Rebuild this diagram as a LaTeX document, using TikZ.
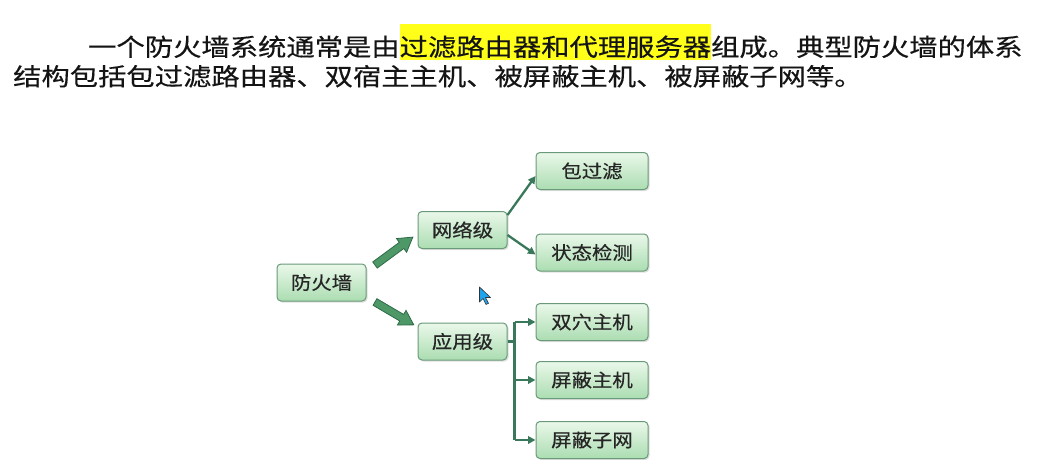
\documentclass[tikz,border=0pt]{standalone}
\usepackage{fontspec}
\newfontfamily\cjktitle{Noto Sans CJK SC}[FakeStretch=1.17,FakeBold=0.4]
\newfontfamily\cjkbox{Noto Sans CJK SC}[FakeStretch=1.12,FakeBold=0.5]
\usetikzlibrary{shadings,shadows,arrows.meta}
\definecolor{boxtop}{HTML}{EAF8EA}
\definecolor{boxbot}{HTML}{ABDDB1}
\definecolor{boxline}{HTML}{6A9A7A}
\definecolor{conncol}{HTML}{3A785C}
\definecolor{arrfill}{HTML}{4E9868}
\definecolor{arrline}{HTML}{2E6A48}
\definecolor{hl}{HTML}{FFFF1A}
\definecolor{cursorblue}{HTML}{1EA4EC}
\begin{document}
\begin{tikzpicture}[x=1pt,y=-1pt,
  box/.style={draw=boxline, line width=1pt, rounded corners=4pt,
    top color=boxtop, bottom color=boxbot,
    minimum width=89pt, minimum height=37pt, inner sep=0pt,
    font=\cjkbox\fontsize{18.2}{22}\selectfont, text=black!85,
    drop shadow={shadow xshift=1.5pt, shadow yshift=-1.5pt, opacity=0.25}},
  leaf/.style={box, minimum width=112pt},
  link/.style={draw=conncol, line width=2.3pt, -{Triangle[length=7.5pt,width=7.5pt]}},
  trunk/.style={draw=conncol, line width=2.3pt},
  bigarrow/.style={fill=arrfill, draw=arrline, line width=0.8pt, line join=miter},
  title/.style={anchor=base west, inner sep=0pt, font=\cjktitle\fontsize{24.2}{30}\selectfont, text=black!92}
]
\useasboundingbox (0,0) rectangle (1053,460);
\fill[white] (0,0) rectangle (1053,460);

% title text
\node[title] (t1) at (88,56) {一个防火墙系统通常是由{\setlength{\fboxsep}{0pt}\colorbox{hl}{\rule[-4pt]{0pt}{36pt}过滤路由器和代理服务器}}组成。典型防火墙的体系};
\node[title] (t2) at (13,85.5) {结构包括包过滤路由器、双宿主主机、被屏蔽主机、被屏蔽子网等。};

% nodes
\node[box] (fw)  at (321.5,282.5) {防火墙};
\node[box] (net) at (462.5,230) {网络级};
\node[box] (app) at (462.5,341.5) {应用级};
\node[leaf] (pf)  at (592,171) {包过滤};
\node[leaf] (sd)  at (592,252.5) {状态检测};
\node[leaf] (dh)  at (592,322) {双穴主机};
\node[leaf] (sh)  at (592,380) {屏蔽主机};
\node[leaf] (sn)  at (592,440) {屏蔽子网};

% block arrows from fw
\coordinate (a1s) at (375,265);
\coordinate (a2s) at (375,302);
\begin{scope}[shift={(a1s)}, rotate=36.4]
  \draw[bigarrow] (0,-3.8) -- (33,-3.8) -- (33,-8.5) -- (47,0) -- (33,8.5) -- (33,3.8) -- (0,3.8) -- cycle;
\end{scope}
\begin{scope}[shift={(a2s)}, rotate=-30.5]
  \draw[bigarrow] (0,-3.8) -- (31,-3.8) -- (31,-8.5) -- (45,0) -- (31,8.5) -- (31,3.8) -- (0,3.8) -- cycle;
\end{scope}

% network level links
\draw[link] ([yshift=15pt]net.east) -- ([yshift=-5pt]pf.west);
\draw[link] ([yshift=-5pt]net.east) -- ([yshift=-2pt]sd.west);

% application level tree
\draw[trunk] (app.east) -- ++(7,0) coordinate (tr);
\draw[trunk] (tr |- dh.west) -- (tr |- sn.west);
\draw[link] (tr |- dh.west) -- (dh.west);
\draw[link] (tr |- sh.west) -- (sh.west);
\draw[link] (tr |- sn.west) -- (sn.west);

% mouse cursor
\begin{scope}[shift={(479.5,287)}]
  \draw[fill=cursorblue, draw=black!80, line width=0.6pt, line join=round]
    (0,0) -- (0,15) -- (3.5,11.5) -- (6.5,17.5) -- (9,16.3) -- (6,10.5) -- (11,10.5) -- cycle;
\end{scope}
\end{tikzpicture}
\end{document}
